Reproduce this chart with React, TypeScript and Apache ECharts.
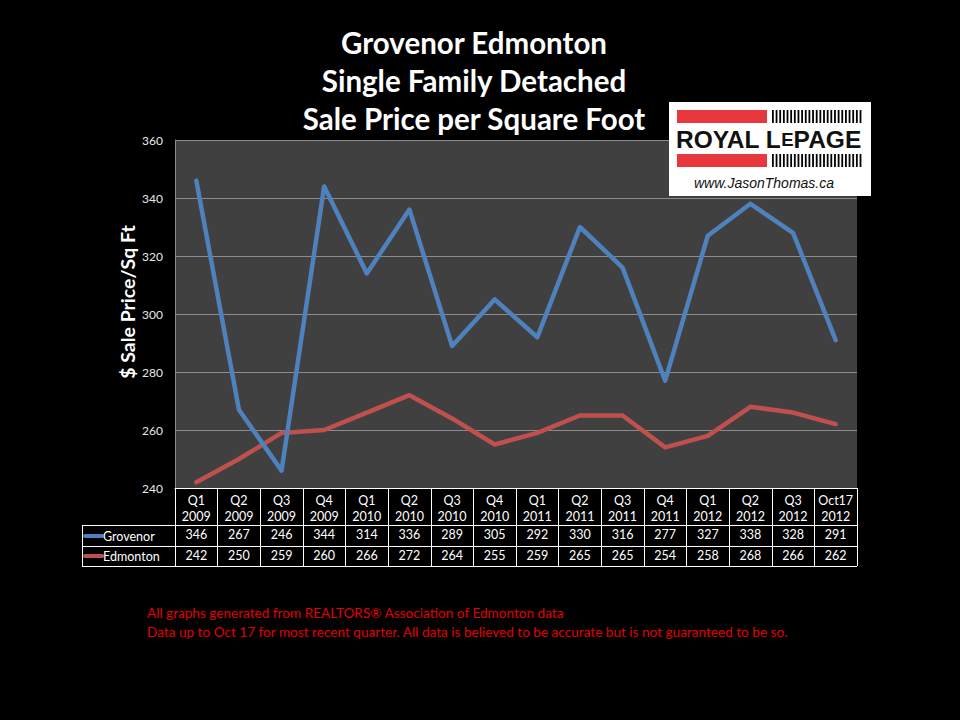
import React, { useEffect, useRef } from "react";
import * as echarts from "echarts";

const categories = [
  "Q1\n2009", "Q2\n2009", "Q3\n2009", "Q4\n2009",
  "Q1\n2010", "Q2\n2010", "Q3\n2010", "Q4\n2010",
  "Q1\n2011", "Q2\n2011", "Q3\n2011", "Q4\n2011",
  "Q1\n2012", "Q2\n2012", "Q3\n2012", "Oct17\n2012",
];
const grovenor = [346, 267, 246, 344, 314, 336, 289, 305, 292, 330, 316, 277, 327, 338, 328, 291];
const edmonton = [242, 250, 259, 260, 266, 272, 264, 255, 259, 265, 265, 254, 258, 268, 266, 262];
const titleLines = ["Grovenor Edmonton", "Single Family Detached", "Sale Price per Square Foot"];
const yAxisName = "$ Sale Price/Sq Ft";
const footnotes = [
  "All graphs generated from REALTORS\u00ae Association of Edmonton data",
  "Data up to Oct 17 for most recent quarter. All data is believed to be accurate but is not guaranteed to be so.",
];

const BLUE = "#4f81bd";
const RED = "#c0504d";
const FONT = "Lato, 'Open Sans', sans-serif";
const LOGO_FONT = "'Liberation Sans', Arial, sans-serif";

export default function App() {
  const ref = useRef<HTMLDivElement>(null);
  useEffect(() => {
    if (!ref.current) return;
    const chart = echarts.init(ref.current, null, { renderer: "svg" });

    const Z = 200;
    const stripes: any[] = [];
    for (let i = 0; i < 25; i++) {
      const x = 772 + i * 3.65;
      stripes.push({ type: "rect", z: Z + 1, shape: { x, y: 110, width: 1.8, height: 13 }, style: { fill: "#000" } });
      stripes.push({ type: "rect", z: Z + 1, shape: { x, y: 154, width: 1.8, height: 13 }, style: { fill: "#000" } });
    }

    const white = { stroke: "#ffffff", lineWidth: 1 };

    chart.setOption({
      animation: false,
      backgroundColor: "#000000",
      grid: {
        left: 175, right: 103, top: 140, bottom: 232,
        show: true, backgroundColor: "#404040", borderWidth: 0,
      },
      xAxis: [
        {
          type: "category", data: categories, boundaryGap: true,
          axisLine: { show: true, lineStyle: { color: "#ffffff", width: 1 } },
          axisTick: { show: true, interval: 0, length: 78, lineStyle: { color: "#ffffff", width: 1 } },
          axisLabel: { interval: 0, color: "#ffffff", fontFamily: FONT, fontSize: 12.5, lineHeight: 16, margin: 4 },
        },
        {
          type: "category", data: grovenor.map(String), boundaryGap: true, position: "bottom", offset: 37,
          axisLine: { show: true, lineStyle: { color: "#ffffff", width: 1 } },
          axisTick: { show: false },
          axisLabel: { interval: 0, color: "#ffffff", fontFamily: FONT, fontSize: 12.5, lineHeight: 14, margin: 2 },
        },
        {
          type: "category", data: edmonton.map(String), boundaryGap: true, position: "bottom", offset: 58,
          axisLine: { show: true, lineStyle: { color: "#ffffff", width: 1 } },
          axisTick: { show: false },
          axisLabel: { interval: 0, color: "#ffffff", fontFamily: FONT, fontSize: 12.5, lineHeight: 14, margin: 2 },
        },
      ],
      yAxis: {
        type: "value", min: 240, max: 360, interval: 20,
        axisLine: { show: true, lineStyle: { color: "#8c8c8c", width: 1 } },
        axisTick: { show: false },
        splitLine: { show: true, lineStyle: { color: "#8c8c8c", width: 1 } },
        axisLabel: { color: "#e8e8e8", fontFamily: FONT, fontSize: 12, margin: 12 },
      },
      series: [
        {
          name: "Grovenor", type: "line", data: grovenor, xAxisIndex: 0, symbol: "none",
          lineStyle: { color: BLUE, width: 4.5, cap: "round", join: "round" }, z: 3,
        },
        {
          name: "Edmonton", type: "line", data: edmonton, xAxisIndex: 0, symbol: "none",
          lineStyle: { color: RED, width: 4.5, cap: "round", join: "round" }, z: 2,
        },
      ],
      graphic: [
        ...titleLines.map((t, i) => ({
          type: "text", x: 474, y: 42 + i * 38,
          style: { text: t, fill: "#ffffff", font: `bold 29.5px ${FONT}`, textAlign: "center", textVerticalAlign: "middle" },
        })),
        {
          type: "text", x: 127, y: 302, rotation: Math.PI / 2,
          style: { text: yAxisName, fill: "#ffffff", font: `bold 19.5px ${FONT}`, textAlign: "center", textVerticalAlign: "middle" },
        },
        // table left column borders
        { type: "line", shape: { x1: 82, y1: 525.5, x2: 175, y2: 525.5 }, style: white },
        { type: "line", shape: { x1: 82, y1: 546.5, x2: 175, y2: 546.5 }, style: white },
        { type: "line", shape: { x1: 82, y1: 566.5, x2: 857, y2: 566.5 }, style: white },
        { type: "line", shape: { x1: 82.5, y1: 525, x2: 82.5, y2: 567 }, style: white },
        // legend keys
        { type: "line", shape: { x1: 85, y1: 536, x2: 102, y2: 536 }, style: { stroke: BLUE, lineWidth: 4, lineCap: "round" } },
        { type: "text", x: 103, y: 536, style: { text: "Grovenor", fill: "#ffffff", font: `12.5px ${FONT}`, textVerticalAlign: "middle" } },
        { type: "line", shape: { x1: 85, y1: 556, x2: 102, y2: 556 }, style: { stroke: RED, lineWidth: 4, lineCap: "round" } },
        { type: "text", x: 103, y: 556, style: { text: "Edmonton", fill: "#ffffff", font: `12.5px ${FONT}`, textVerticalAlign: "middle" } },
        // footnotes
        ...footnotes.map((t, i) => ({
          type: "text", x: 147, y: 613 + i * 19,
          style: { text: t, fill: "#e00000", font: `13.6px ${FONT}`, textVerticalAlign: "middle" },
        })),
        // logo
        { type: "rect", z: Z, shape: { x: 669, y: 102, width: 202, height: 94 }, style: { fill: "#ffffff" } },
        { type: "rect", z: Z + 1, shape: { x: 677, y: 110, width: 90, height: 13 }, style: { fill: "#e8383d" } },
        { type: "rect", z: Z + 1, shape: { x: 677, y: 154, width: 90, height: 13 }, style: { fill: "#e8383d" } },
        ...stripes,
        {
          type: "text", z: Z + 1, x: 676, y: 139,
          style: {
            text: "{a|ROYAL L}{b|E}{a|PAGE}", textVerticalAlign: "middle",
            rich: {
              a: { fontFamily: LOGO_FONT, fontWeight: "bold", fontSize: 24.5, fill: "#111111" },
              b: { fontFamily: LOGO_FONT, fontWeight: "bold", fontSize: 18.5, fill: "#111111" },
            },
          },
        },
        {
          type: "text", z: Z + 1, x: 764, y: 183,
          style: { text: "www.JasonThomas.ca", fill: "#111111", font: `italic 14px ${LOGO_FONT}`, textAlign: "center", textVerticalAlign: "middle" },
        },
      ],
    });
    return () => chart.dispose();
  }, []);
  return <div ref={ref} style={{ position: "fixed", left: 0, top: 0, width: 960, height: 720, background: "#000" }} />;
}
